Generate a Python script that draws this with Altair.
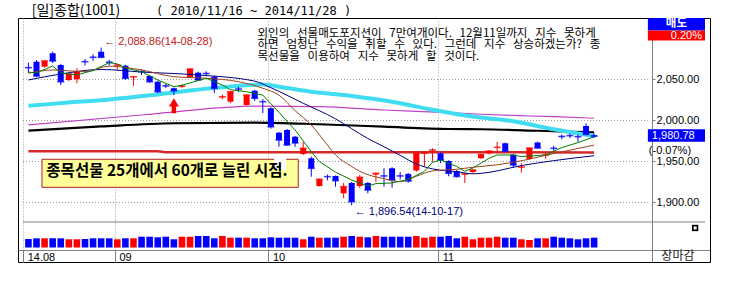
import altair as alt
import pandas as pd

# ---------------- values ----------------
opens = [2065.0, 2071.7, 2065.6, 2082.0, 2067.7, 2049.4, 2050.2, 2072.0, 2077.5, 2083.9,
         2071.5, 2067.2, 2066.8, 2052.8, 2059.8, 2054.3, 2047.3, 2042.4, 2039.3, 2041.2,
         2052.7, 2058.3, 2057.6, 2053.4, 2028.3, 2022.9, 2038.6, 2018.9, 2036.3, 2023.2,
         2014.9, 1985.1, 1988.4, 1980.2, 1959.1, 1953.9, 1920.1, 1931.8, 1932.3, 1911.2,
         1923.8, 1920.1, 1923.8, 1934.0, 1932.6, 1941.7, 1932.6, 1934.8, 1939.0, 1959.5,
         1963.5, 1960.0, 1950.6, 1938.4, 1934.2, 1937.2, 1953.9, 1959.9, 1966.8, 1972.2,
         1958.3, 1942.8, 1953.0, 1973.2, 1957.5, 1966.4, 1981.0, 1981.8, 1980.5, 1993.3,
         1982.0]
highs = [2070.5, 2073.8, 2073.8, 2084.0, 2069.0, 2057.5, 2063.7, 2075.0, 2080.7, 2088.86,
         2074.0, 2069.0, 2068.0, 2054.0, 2062.5, 2055.0, 2048.0, 2044.5, 2040.0, 2044.0,
         2063.5, 2059.5, 2060.0, 2054.5, 2031.5, 2036.0, 2041.0, 2032.0, 2037.5, 2026.0,
         2016.0, 1986.0, 1989.5, 1981.0, 1974.1, 1955.9, 1929.0, 1934.0, 1933.0, 1923.8,
         1925.0, 1933.5, 1925.0, 1936.0, 1941.7, 1943.0, 1937.0, 1936.0, 1961.0, 1961.5,
         1966.1, 1961.0, 1951.5, 1939.5, 1936.0, 1940.5, 1959.5, 1963.5, 1974.1, 1973.0,
         1959.0, 1947.8, 1967.0, 1974.0, 1960.5, 1969.0, 1983.0, 1984.0, 1983.0, 1996.6,
         1984.0]
lows = [2058.3, 2052.7, 2064.4, 2070.1, 2043.3, 2048.0, 2045.4, 2067.0, 2072.6, 2076.0,
        2067.0, 2062.0, 2049.5, 2042.1, 2055.5, 2046.0, 2033.5, 2039.5, 2031.0, 2039.5,
        2052.0, 2048.5, 2054.0, 2033.5, 2026.0, 2021.0, 2035.0, 2018.0, 2024.0, 2009.1,
        1990.0, 1968.0, 1969.0, 1968.0, 1958.0, 1931.5, 1919.5, 1927.0, 1919.3, 1905.5,
        1896.54, 1917.7, 1911.2, 1925.0, 1919.3, 1918.0, 1928.0, 1924.0, 1937.5, 1943.7,
        1949.8, 1948.0, 1932.0, 1930.5, 1923.8, 1936.0, 1953.0, 1958.5, 1960.0, 1961.5,
        1942.0, 1936.4, 1952.0, 1965.5, 1953.5, 1963.0, 1977.0, 1978.5, 1974.1, 1982.2,
        1978.5]
closes = [2064.4, 2054.3, 2072.6, 2072.6, 2047.3, 2056.7, 2059.5, 2071.7, 2077.1, 2077.1,
          2071.0, 2067.7, 2051.5, 2053.4, 2059.5, 2047.3, 2035.1, 2042.1, 2036.3, 2042.0,
          2062.8, 2049.4, 2057.3, 2039.3, 2028.9, 2035.1, 2038.3, 2031.1, 2027.1, 2022.9,
          1992.4, 1976.2, 1970.1, 1972.6, 1966.1, 1941.7, 1928.3, 1931.5, 1926.6, 1919.3,
          1901.0, 1930.7, 1915.2, 1935.6, 1932.3, 1927.4, 1932.3, 1926.2, 1960.0, 1960.8,
          1964.0, 1951.8, 1935.6, 1931.7, 1934.8, 1939.6, 1958.5, 1962.8, 1967.3, 1962.4,
          1945.7, 1943.3, 1966.5, 1966.5, 1957.9, 1966.1, 1980.5, 1981.5, 1980.2, 1983.0,
          1980.78]
volumes = [310, 336, 336, 336, 336, 300, 300, 310, 336, 336, 336, 300, 336, 336,
           394, 394, 372, 394, 300, 394, 394, 420, 420, 336, 420, 358, 358, 358, 336, 336, 372,
           358, 358, 358, 300, 394, 358, 358, 358, 394, 420, 394,
           372, 420, 394, 394, 394, 394, 420, 358, 394, 394, 420, 336, 394, 300, 358, 358,
           394, 358, 358, 300, 274, 336, 336, 394, 358, 336, 300, 336, 358]

month_first_index = [0, 11, 30, 51]
month_labels = ["14.08", "09", "10", "11"]
price_ticks = [1900, 1950, 2000, 2050]

# moving averages (index, value)
ma5_i = [0, 1, 3, 4, 6, 8, 10, 11, 12, 14, 16, 18, 19, 22, 24, 25, 27, 29, 31, 33, 35, 36, 38,
         40, 42, 43, 45, 47, 49, 50, 51, 53, 54, 55, 57, 58, 60, 61, 64, 66, 68, 70]
ma5_v = [2059.0, 2058.0, 2066.5, 2058.0, 2055.5, 2061.0, 2070.5, 2069.0, 2064.0, 2059.5,
         2049.4, 2041.2, 2043.0, 2051.5, 2043.3, 2037.5, 2035.0, 2031.0, 2010.0, 1988.4,
         1962.0, 1950.0, 1937.0, 1927.4, 1920.0, 1923.0, 1923.8, 1928.0, 1938.0, 1949.0,
         1951.8, 1944.0, 1938.0, 1942.0, 1953.9, 1957.9, 1957.9, 1956.0, 1957.9, 1967.0,
         1973.0, 1980.0]
ma10_i = [0, 3, 7, 10, 14, 18, 22, 26, 29, 31, 33, 35, 37, 38, 40, 41, 44, 46, 48, 50, 53,
          55, 58, 60, 65, 70]
ma10_v = [2057.6, 2061.6, 2059.5, 2066.3, 2061.6, 2053.4, 2051.5, 2047.3, 2039.3, 2031.0,
          2012.0, 1994.5, 1970.0, 1958.0, 1944.0, 1938.0, 1929.0, 1925.4, 1932.0, 1938.5,
          1940.5, 1943.0, 1946.0, 1949.0, 1959.7, 1970.0]
ma20_i = [0, 4, 9, 14, 21, 28, 30, 34, 38, 40, 42, 44, 46, 48, 50, 53, 55, 58, 60, 65, 70]
ma20_v = [2049.4, 2056.7, 2062.2, 2059.1, 2055.5, 2048.0, 2040.0, 2021.0, 2002.0, 1990.0,
          1978.0, 1968.0, 1957.5, 1947.0, 1941.0, 1937.5, 1935.0, 1938.5, 1943.0, 1951.0,
          1957.0]
ma60_i = [0, 5, 10, 15, 20, 25, 29, 32, 35, 40, 45, 50, 55, 60, 65, 70]
ma60_v = [2018.0, 2021.8, 2025.6, 2030.7, 2036.7, 2041.5, 2043.8, 2039.5, 2035.0, 2030.0,
          2022.9, 2013.2, 2004.8, 1999.0, 1989.2, 1981.1]
ma120_i = [0, 14, 17, 28, 36, 44, 52, 56, 62, 66, 70]
ma120_v = [1994.5, 2006.7, 2009.5, 2017.5, 2016.8, 2012.8, 2009.5, 2007.6, 2005.5, 2004.3,
           2002.7]
ma240_i = [0, 9, 18, 28, 36, 44, 52, 56, 63, 70]
ma240_v = [1987.6, 1992.7, 1996.6, 1997.4, 1995.4, 1992.4, 1989.6, 1989.3, 1987.5, 1985.4]
ma480_i = [0, 16, 17, 70]
ma480_v = [1962.6, 1962.6, 1961.3, 1961.1]

hi_label = "\u2190 2,088.86(14-08-28)"
lo_label = "\u2190 1,896.54(14-10-17)"
note_lines = ["외인의 선물매도포지션이 7만여개이다. 12월11일까지 지수 못하게",
              "하면 엄청난 수익을 취할 수 있다. 그런데 지수 상승하겠는가? 종",
              "목선물을 이용하여 지수 못하게 할 것이다."]
box_text = "종목선물 25개에서 60개로 늘린 시점."
title_left = "[일]종합(1001)"
title_right = "( 2010/11/16 ~ 2014/11/28 )"
side_head = "매도"
side_rate = "0.20%"
change_text = "(-0.07%)"
footer_text = "장마감"

# ---------------- layout (scale domains / annotation anchors) ----------------
X_LEFT, X_RIGHT, X_SEP = -0.671, 83.72, 76.65
P_BOT, P_TOP = 1827.4, 2125.0
V_DOM = [-529.6, 8382.0]
KR = "Noto Sans CJK KR"
LAT = "Liberation Sans"
UP, DOWN = "#FF0000", "#0000FF"
WIDE = " \u00a0\u00a0"  # the source font has wide spaces

n = len(closes)
df = pd.DataFrame({
    "i": list(range(n)), "o": opens, "h": highs, "l": lows, "c": closes, "v": volumes,
})
df["lo"] = df[["o", "c"]].min(axis=1)
df["hi"] = df[["o", "c"]].max(axis=1)
df["col"] = [UP if c >= o else DOWN for o, c in zip(opens, closes)]
df["v0"] = 0

tick_vals = [X_LEFT + 0.02] + [m - 0.3 for m in month_first_index[1:]]
label_expr = "".join(
    f"abs(datum.value - ({v})) < 0.01 ? '{lab}' : " for v, lab in zip(tick_vals, month_labels)
) + "''"

xs = alt.Scale(domain=[X_LEFT, X_RIGHT], nice=False, zero=False)
ys = alt.Scale(domain=[P_BOT, P_TOP], nice=False, zero=False)
x_axis = alt.Axis(orient="bottom", offset=-12, values=tick_vals, labelExpr=label_expr,
                  tickSize=12, tickColor="#808080", domainColor="#808080",
                  labelAlign="left", labelBaseline="top", labelPadding=-11, labelOffset=4,
                  labelFont=LAT, labelFontSize=11, labelColor="#000000",
                  grid=True, gridDash=[1, 2], gridColor="#9a9a9a", title=None)
y_axis = alt.Axis(orient="right", offset=-58, values=price_ticks, format=",.2f",
                  tickSize=3, tickColor="#808080", domainColor="#808080",
                  labelFont=LAT, labelFontSize=11, labelColor="#000000", labelPadding=1,
                  grid=False, title=None)


def X(field="i"):
    return alt.X(f"{field}:Q", scale=xs, axis=x_axis)


def Y(field="p"):
    return alt.Y(f"{field}:Q", scale=ys, axis=y_axis)


base = alt.Chart(df)
wick = base.mark_rule(strokeWidth=1).encode(x=X(), y=Y("l"), y2="h", color=alt.Color("col:N", scale=None))
body = base.mark_bar(size=6).encode(x=X(), y=Y("lo"), y2="hi", color=alt.Color("col:N", scale=None))
ctick = base.mark_tick(orient="horizontal", size=7, thickness=1.6).encode(
    x=X(), y=Y("c"), color=alt.Color("col:N", scale=None))

# price grid lines
grid_df = pd.DataFrame({"p": price_ticks, "a": X_LEFT, "b": X_SEP})
hgrid = alt.Chart(grid_df).mark_rule(strokeDash=[1, 2], color="#9a9a9a").encode(
    x=X("a"), x2="b", y=Y("p"))
sep_df = pd.DataFrame({"p": [1876.2], "a": [X_LEFT], "b": [X_RIGHT]})
sep = alt.Chart(sep_df).mark_rule(color="#808080").encode(x=X("a"), x2="b", y=Y("p"))


def ma_line(ii, vv, color, width, interp="monotone"):
    d = pd.DataFrame({"i": ii, "p": vv})
    return alt.Chart(d).mark_line(color=color, strokeWidth=width, interpolate=interp).encode(
        x=X(), y=Y())


lines = [
    ma_line(ma480_i, ma480_v, "#D42A2A", 2.5, "linear"),
    ma_line(ma240_i, ma240_v, "#000000", 2.2),
    ma_line(ma120_i, ma120_v, "#C040C8", 1.2),
    ma_line(ma60_i, ma60_v, "#40DDF2", 4),
    ma_line(ma20_i, ma20_v, "#000080", 1),
    ma_line(ma10_i, ma10_v, "#A0421E", 1),
    ma_line(ma5_i, ma5_v, "#008000", 1, "linear"),
]

# annotations
hi_idx = int(df["h"].idxmax())
lo_idx = int(df["l"].idxmin())
ann_df = pd.DataFrame({"i": [hi_idx, lo_idx], "p": [highs[hi_idx], lows[lo_idx]],
                       "t": [hi_label, lo_label]})
hi_ann = alt.Chart(ann_df.iloc[[0]]).mark_text(align="left", baseline="middle", dx=3, dy=-6,
                                               font=LAT, fontSize=11, color="#C02020").encode(
    x=X(), y=Y(), text="t:N")
lo_ann = alt.Chart(ann_df.iloc[[1]]).mark_text(align="left", baseline="middle", dx=3, dy=7,
                                               font=LAT, fontSize=11, color="#000080").encode(
    x=X(), y=Y(), text="t:N")

arrow_df = pd.DataFrame({"i": [18], "p": [2017.9]})
arrow = alt.Chart(arrow_df).mark_point(
    shape="M0,-1 L0.67,0.1 L0.3,0.1 L0.3,1 L-0.3,1 L-0.3,0.1 L-0.67,0.1 Z",
    size=225, filled=True, color="#FF0000", opacity=1).encode(x=X(), y=Y())

note_df = pd.DataFrame({"i": [28.35], "p": [2113.4]})
note = alt.Chart(note_df).mark_text(text=[s.replace(" ", WIDE) for s in note_lines],
                                    align="left", baseline="top", lineHeight=11.5,
                                    font=KR, fontSize=11.5, color="#000000").encode(x=X(), y=Y())

box_df = pd.DataFrame({"i": [1.68], "i2": [33.39], "p": [1918.5], "p2": [1952.7]})
box = alt.Chart(box_df).mark_rect(fill="#FFFF99", stroke="#B02020", strokeWidth=1).encode(
    x=X(), x2="i2", y=Y(), y2="p2")
patch_df = pd.DataFrame({"i": [30.4], "i2": [31.9], "p": [1939.6], "p2": [1955.9]})
patch = alt.Chart(patch_df).mark_rect(fill="white").encode(x=X(), x2="i2", y=Y(), y2="p2")
box_t_df = pd.DataFrame({"i": [2.22], "p": [1938.4], "t": [box_text]})
box_t = alt.Chart(box_t_df).mark_text(align="left", baseline="middle", font=KR, fontSize=15.5,
                                      fontWeight="bold", color="#000000").encode(
    x=X(), y=Y(), text="t:N")

# right side panel
side_df = pd.DataFrame({"i": [X_SEP, X_SEP], "i2": [X_RIGHT, X_RIGHT],
                        "p": [P_TOP, 2109.8], "p2": [2109.8, 2097.6],
                        "f": [DOWN, UP]})
side = alt.Chart(side_df).mark_rect().encode(x=X(), x2="i2", y=Y(), y2="p2",
                                             fill=alt.Fill("f:N", scale=None))
head_df = pd.DataFrame({"i": [(X_SEP + X_RIGHT) / 2], "p": [2117.8], "t": [side_head]})
head = alt.Chart(head_df).mark_text(font=KR, fontSize=11.5, fontWeight="bold", color="white",
                                    baseline="middle").encode(x=X(), y=Y(), text="t:N")
rate_df = pd.DataFrame({"i": [X_RIGHT], "p": [2103.4], "t": [side_rate]})
rate = alt.Chart(rate_df).mark_text(font=LAT, fontSize=11, color="white", align="right",
                                    baseline="middle", dx=-3).encode(x=X(), y=Y(), text="t:N")

last = closes[-1]
lastbox_df = pd.DataFrame({"i": [X_SEP], "i2": [X_RIGHT], "p": [last + 8.5], "p2": [last - 6.7]})
lastbox = alt.Chart(lastbox_df).mark_rect(fill="#0000FF").encode(x=X(), x2="i2", y=Y(), y2="p2")
last_t_df = pd.DataFrame({"i": [X_SEP], "p": [last + 0.9], "t": [f"{last:,.2f}"]})
last_t = alt.Chart(last_t_df).mark_text(font=LAT, fontSize=11, color="white", align="left",
                                        baseline="middle", dx=4).encode(x=X(), y=Y(), text="t:N")
chg_df = pd.DataFrame({"i": [X_SEP], "p": [last - 18.6], "t": [change_text]})
chg = alt.Chart(chg_df).mark_text(font=LAT, fontSize=11, color="black", align="left",
                                  baseline="middle", dx=1).encode(x=X(), y=Y(), text="t:N")

icon_df = pd.DataFrame({"i": [82.5], "p": [1868.9]})
icon = alt.Chart(icon_df).mark_point(shape="square", size=40, filled=True, color="black",
                                     opacity=1).encode(x=X(), y=Y())
icon_x = alt.Chart(icon_df).mark_point(shape="cross", size=14, angle=45, filled=True,
                                       color="white", opacity=1).encode(x=X(), y=Y())
foot_df = pd.DataFrame({"i": [80.37], "p": [1834.8], "t": [footer_text]})
foot = alt.Chart(foot_df).mark_text(font=KR, fontSize=12, color="#222222",
                                    baseline="middle").encode(x=X(), y=Y(), text="t:N")

title_df = pd.DataFrame({"i": [0.4, 15.8], "p": [2133.6, 2133.6], "t": [title_left, title_right]})
tl = alt.Chart(title_df.iloc[[0]]).mark_text(font=KR, fontSize=14, align="left", baseline="middle",
                                             color="black").encode(x=X(), y=Y(), text="t:N")
tr = alt.Chart(title_df.iloc[[1]]).mark_text(font="DejaVu Sans Mono", fontSize=12, align="left",
                                             baseline="middle", color="black").encode(
    x=X(), y=Y(), text="t:N")

price_group = alt.layer(hgrid, sep, *lines[:4], wick, body, ctick, *lines[4:], arrow,
                        hi_ann, lo_ann, note, box, patch, box_t, side, head, rate, lastbox, last_t,
                        chg, icon, icon_x, foot, tl, tr)

vol = alt.Chart(df).mark_bar(size=6.6).encode(
    x=X(), y=alt.Y("v:Q", scale=alt.Scale(domain=V_DOM, nice=False, zero=False), axis=None),
    y2="v0", color=alt.Color("col:N", scale=None))

chart = alt.layer(price_group, vol).resolve_scale(y="independent").properties(
    width=692, height=244,
    autosize=alt.AutoSizeParams(type="none"),
    padding={"left": 18, "top": 18, "right": 21, "bottom": 21},
    background="white",
).configure_view(stroke="#000000", strokeWidth=1)

chart.save("out.html", embed_options={"renderer": "svg", "actions": False})
